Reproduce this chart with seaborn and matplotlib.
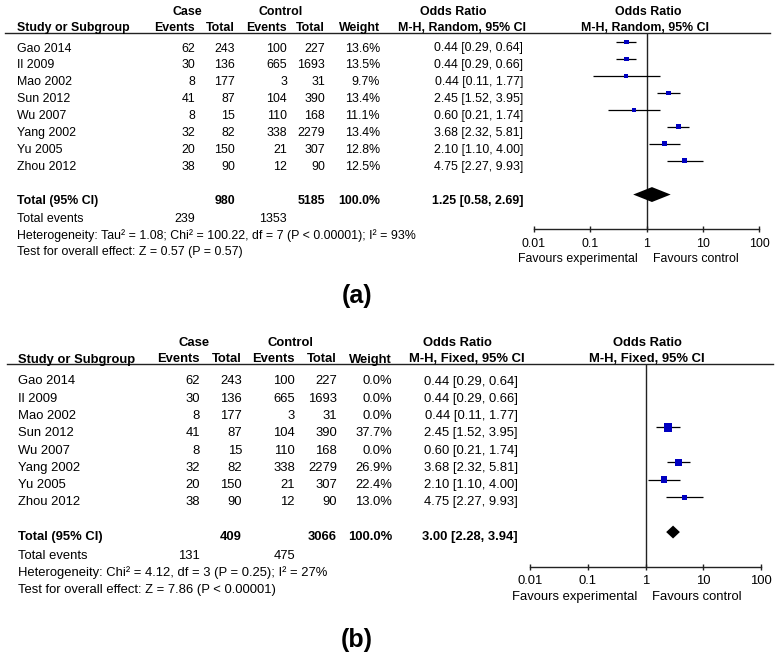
import numpy as np
import pandas as pd
import matplotlib
matplotlib.use("Agg")
import matplotlib.pyplot as plt
import seaborn as sns
from matplotlib.lines import Line2D
from matplotlib.ticker import NullLocator

# ---------------- data ----------------
studies = ["Gao 2014", "Il 2009", "Mao 2002", "Sun 2012", "Wu 2007",
           "Yang 2002", "Yu 2005", "Zhou 2012"]
case_events = [62, 30, 8, 41, 8, 32, 20, 38]
case_total = [243, 136, 177, 87, 15, 82, 150, 90]
ctrl_events = [100, 665, 3, 104, 110, 338, 21, 12]
ctrl_total = [227, 1693, 31, 390, 168, 2279, 307, 90]
odds_ratio = [0.44, 0.44, 0.44, 2.45, 0.60, 3.68, 2.10, 4.75]
ci_low = [0.29, 0.29, 0.11, 1.52, 0.21, 2.32, 1.10, 2.27]
ci_high = [0.64, 0.66, 1.77, 3.95, 1.74, 5.81, 4.00, 9.93]
weight_random = [13.6, 13.5, 9.7, 13.4, 11.1, 13.4, 12.8, 12.5]
weight_fixed = [0.0, 0.0, 0.0, 37.7, 0.0, 26.9, 22.4, 13.0]

# pooled results: [random (a), fixed (b)]
pooled_case_total = [980, 409]
pooled_ctrl_total = [5185, 3066]
pooled_case_events = [239, 131]
pooled_ctrl_events = [1353, 475]
pooled_or = [1.25, 3.00]
pooled_low = [0.58, 2.28]
pooled_high = [2.69, 3.94]
heterogeneity = ["Heterogeneity: Tau\u00b2 = 1.08; Chi\u00b2 = 100.22, df = 7 (P < 0.00001); I\u00b2 = 93%",
                 "Heterogeneity: Chi\u00b2 = 4.12, df = 3 (P = 0.25); I\u00b2 = 27%"]
overall = ["Test for overall effect: Z = 0.57 (P = 0.57)",
           "Test for overall effect: Z = 7.86 (P < 0.00001)"]
methods = ["M-H, Random, 95% CI", "M-H, Fixed, 95% CI"]
tick_values = [0.01, 0.1, 1, 10, 100]
tick_labels = ["0.01", "0.1", "1", "10", "100"]
panel_labels = ["(a)", "(b)"]

FONT = ["Liberation Sans", "DejaVu Sans"]
plt.rcParams["font.family"] = FONT
BLUE = "#0000C0"

W, H = 777, 654
fig = plt.figure(figsize=(W / 100, H / 100), dpi=100)


def fx(x):
    return x / W


def fy(y):
    return 1 - y / H


def txt(x, y, s, ha="left", bold=False, size=9.0):
    fig.text(fx(x), fy(y), s, ha=ha, va="baseline", fontsize=size,
             fontweight="bold" if bold else "normal", family=FONT, color="black")


layouts = [
    dict(fs=8.9, left=17, cols=[195, 235, 287, 325, 380], or_r=523,
         case_c=187, ctrl_c=281, orh_c=453, mh_c=462, rorh_c=648, rmh_c=645,
         y_case=15, y_hdr=31, y_line=32.5, line_x=(5, 770),
         row0=51.5, rstep=16.95, y_tev=221.5, y_het=238.5, y_test=255.5,
         fx0=534, fx1=759, f_top=32.5, f_axis=229, m0=42.0, mstep=16.95,
         y_fav=262, fav_l=638, fav_r=653, lab_c=357, lab_y=302.5,
         weights=weight_random, msize=0.81, dh=0.44, pad=4.0),
    dict(fs=9.4, left=18, cols=[200, 242, 295, 337, 392], or_r=518,
         case_c=194, ctrl_c=290, orh_c=457, mh_c=467, rorh_c=647, rmh_c=647,
         y_case=346.5, y_hdr=362.5, y_line=364, line_x=(7, 773),
         row0=384.5, rstep=17.28, y_tev=559, y_het=576, y_test=593,
         fx0=530, fx1=761, f_top=364, f_axis=567, m0=375.0, mstep=17.45,
         y_fav=600, fav_l=637, fav_r=652, lab_c=357, lab_y=646.5,
         weights=weight_fixed, msize=1.02, dh=0.37, pad=3.5),
]

for p, L in enumerate(layouts):
    fs = L["fs"]
    c = L["cols"]
    # ---- header ----
    txt(L["case_c"], L["y_case"], "Case", ha="center", bold=True, size=fs)
    txt(L["ctrl_c"], L["y_case"], "Control", ha="center", bold=True, size=fs)
    txt(L["orh_c"], L["y_case"], "Odds Ratio", ha="center", bold=True, size=fs)
    txt(L["rorh_c"], L["y_case"], "Odds Ratio", ha="center", bold=True, size=fs)
    txt(L["left"], L["y_hdr"], "Study or Subgroup", bold=True, size=fs)
    for xr, h in zip(c, ["Events", "Total", "Events", "Total", "Weight"]):
        txt(xr, L["y_hdr"], h, ha="right", bold=True, size=fs)
    txt(L["mh_c"], L["y_hdr"], methods[p], ha="center", bold=True, size=fs)
    txt(L["rmh_c"], L["y_hdr"], methods[p], ha="center", bold=True, size=fs)
    fig.add_artist(Line2D([fx(L["line_x"][0]), fx(L["line_x"][1])],
                          [fy(L["y_line"])] * 2, color="#222222", lw=1.0,
                          transform=fig.transFigure))

    # ---- study rows ----
    for i, s in enumerate(studies):
        yb = L["row0"] + L["rstep"] * i
        txt(L["left"], yb, s, size=fs)
        vals = [case_events[i], case_total[i], ctrl_events[i], ctrl_total[i]]
        for xr, v in zip(c[:4], vals):
            txt(xr, yb, str(v), ha="right", size=fs)
        txt(c[4], yb, f"{L['weights'][i]:.1f}%", ha="right", size=fs)
        txt(L["or_r"], yb, f"{odds_ratio[i]:.2f} [{ci_low[i]:.2f}, {ci_high[i]:.2f}]",
            ha="right", size=fs)

    # ---- total rows ----
    yb = L["row0"] + L["rstep"] * 9
    txt(L["left"], yb, "Total (95% CI)", bold=True, size=fs)
    txt(c[1], yb, str(pooled_case_total[p]), ha="right", bold=True, size=fs)
    txt(c[3], yb, str(pooled_ctrl_total[p]), ha="right", bold=True, size=fs)
    txt(c[4], yb, "100.0%", ha="right", bold=True, size=fs)
    txt(L["or_r"], yb, f"{pooled_or[p]:.2f} [{pooled_low[p]:.2f}, {pooled_high[p]:.2f}]",
        ha="right", bold=True, size=fs)
    txt(L["left"], L["y_tev"], "Total events", size=fs)
    txt(c[0], L["y_tev"], str(pooled_case_events[p]), ha="right", size=fs)
    txt(c[2], L["y_tev"], str(pooled_ctrl_events[p]), ha="right", size=fs)
    txt(L["left"], L["y_het"], heterogeneity[p], size=fs)
    txt(L["left"], L["y_test"], overall[p], size=fs)

    # ---- forest axes ----
    ax = fig.add_axes([fx(L["fx0"]), fy(L["f_axis"]),
                       fx(L["fx1"]) - fx(L["fx0"]), (L["f_axis"] - L["f_top"]) / H])
    ax.set_facecolor("none")
    ax.set_xscale("log")
    ax.set_xlim(0.01, 100)
    y_top = (L["f_top"] - L["m0"]) / L["mstep"]
    y_bot = (L["f_axis"] - L["m0"]) / L["mstep"]
    ax.set_ylim(y_bot, y_top)

    df = pd.DataFrame({"row": np.arange(len(studies), dtype=float),
                       "or": odds_ratio, "lo": ci_low, "hi": ci_high,
                       "w": L["weights"]})
    df = df[df["w"] > 0]
    ax.axvline(1, color="#222222", lw=1.0, zorder=1)
    ax.hlines(df["row"], df["lo"], df["hi"], color="black", lw=0.9, zorder=2)
    sns.scatterplot(data=df, x="or", y="row", size="w", size_norm=(0, 100),
                    sizes=(0, 100 * L["msize"]), marker="s", color=BLUE,
                    linewidth=0, legend=False, ax=ax, zorder=3)
    # pooled diamond
    ax.fill([pooled_low[p], pooled_or[p], pooled_high[p], pooled_or[p]],
            [9, 9 - L["dh"], 9, 9 + L["dh"]], color="black", lw=0, zorder=3)

    for sp in ["top", "left", "right"]:
        ax.spines[sp].set_visible(False)
    ax.spines["bottom"].set_linewidth(1.0)
    ax.spines["bottom"].set_color("#222222")
    ax.set_xticks(tick_values)
    ax.set_xticklabels(tick_labels)
    ax.xaxis.set_minor_locator(NullLocator())
    ax.set_yticks([])
    ax.set_xlabel("")
    ax.set_ylabel("")
    ax.tick_params(axis="x", direction="inout", length=5, width=1.0,
                   color="#222222", pad=L["pad"], labelsize=fs)

    txt(L["fav_l"], L["y_fav"], "Favours experimental", ha="right", size=fs)
    txt(L["fav_r"], L["y_fav"], "Favours control", size=fs)

    fig.text(fx(L["lab_c"]), fy(L["lab_y"]), panel_labels[p], ha="center",
             va="baseline", fontsize=18, fontweight="bold", family=FONT)

fig.savefig("out.png", dpi=100)
